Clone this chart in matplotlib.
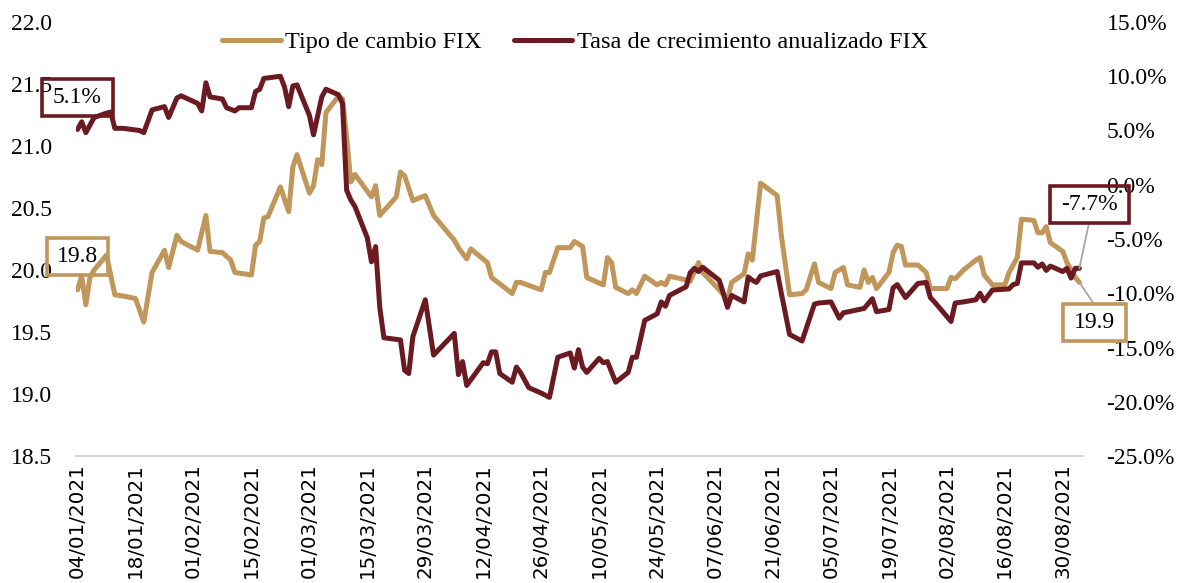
import matplotlib
matplotlib.use("Agg")

import matplotlib.pyplot as plt
import matplotlib.dates as mdates
from matplotlib.patches import Rectangle
from matplotlib.ticker import FuncFormatter, MultipleLocator
import pandas as pd

plt.rcParams.update({
    "font.family": ["Liberation Serif", "DejaVu Serif"],
    "font.size": 17,
})

TAN = "#C0965A"
WINE = "#6B1A21"

# Tipo de cambio FIX (pesos por dólar)
fix_dates = [
    "2021-01-04", "2021-01-05", "2021-01-06", "2021-01-07", "2021-01-08", "2021-01-11",
    "2021-01-13", "2021-01-15", "2021-01-18", "2021-01-20", "2021-01-22", "2021-01-25",
    "2021-01-26", "2021-01-28", "2021-01-29", "2021-02-02", "2021-02-04", "2021-02-05",
    "2021-02-08", "2021-02-10", "2021-02-11", "2021-02-15", "2021-02-16", "2021-02-17",
    "2021-02-18", "2021-02-19", "2021-02-22", "2021-02-24", "2021-02-25", "2021-02-26",
    "2021-03-01", "2021-03-02", "2021-03-03", "2021-03-04", "2021-03-05", "2021-03-08",
    "2021-03-09", "2021-03-10", "2021-03-11", "2021-03-12", "2021-03-16", "2021-03-17",
    "2021-03-18", "2021-03-22", "2021-03-23", "2021-03-24", "2021-03-26", "2021-03-29",
    "2021-03-31", "2021-04-05", "2021-04-06", "2021-04-08", "2021-04-09", "2021-04-13",
    "2021-04-14", "2021-04-19", "2021-04-20", "2021-04-21", "2021-04-26", "2021-04-27",
    "2021-04-28", "2021-04-30", "2021-05-03", "2021-05-04", "2021-05-06", "2021-05-07",
    "2021-05-11", "2021-05-12", "2021-05-13", "2021-05-14", "2021-05-17", "2021-05-18",
    "2021-05-19", "2021-05-21", "2021-05-24", "2021-05-25", "2021-05-26", "2021-05-27",
    "2021-05-31", "2021-06-01", "2021-06-03", "2021-06-04", "2021-06-08", "2021-06-10",
    "2021-06-11", "2021-06-14", "2021-06-15", "2021-06-16", "2021-06-18", "2021-06-22",
    "2021-06-23", "2021-06-25", "2021-06-28", "2021-06-29", "2021-07-01", "2021-07-02",
    "2021-07-05", "2021-07-06", "2021-07-08", "2021-07-09", "2021-07-12", "2021-07-13",
    "2021-07-14", "2021-07-15", "2021-07-16", "2021-07-19", "2021-07-20", "2021-07-21",
    "2021-07-22", "2021-07-23", "2021-07-26", "2021-07-28", "2021-07-29", "2021-08-02",
    "2021-08-03", "2021-08-04", "2021-08-06", "2021-08-09", "2021-08-10", "2021-08-11",
    "2021-08-13", "2021-08-16", "2021-08-17", "2021-08-19", "2021-08-20", "2021-08-23",
    "2021-08-24", "2021-08-25", "2021-08-26", "2021-08-27", "2021-08-30", "2021-08-31",
    "2021-09-02", "2021-09-03",
]
fix_values = [
    19.84, 19.95, 19.72, 19.94, 20.00, 20.12,
    19.80, 19.79, 19.77, 19.58, 19.98, 20.16,
    20.02, 20.28, 20.23, 20.16, 20.44, 20.15,
    20.14, 20.08, 19.98, 19.96, 20.20, 20.23,
    20.42, 20.43, 20.67, 20.47, 20.83, 20.93,
    20.62, 20.68, 20.89, 20.85, 21.27, 21.40,
    21.38, 21.07, 20.71, 20.77, 20.59, 20.68,
    20.44, 20.59, 20.79, 20.76, 20.56, 20.60,
    20.44, 20.24, 20.18, 20.09, 20.17, 20.06,
    19.94, 19.81, 19.90, 19.90, 19.84, 19.98,
    19.98, 20.18, 20.18, 20.23, 20.19, 19.94,
    19.88, 20.10, 20.06, 19.86, 19.81, 19.84,
    19.81, 19.95, 19.88, 19.90, 19.88, 19.95,
    19.92, 19.91, 20.06, 19.98, 19.84, 19.76,
    19.90, 19.97, 20.13, 20.08, 20.70, 20.60,
    20.28, 19.80, 19.81, 19.84, 20.05, 19.90,
    19.85, 19.98, 20.02, 19.88, 19.86, 20.00,
    19.90, 19.94, 19.85, 19.98, 20.14, 20.20,
    20.19, 20.04, 20.04, 19.98, 19.85, 19.85,
    19.94, 19.93, 20.00, 20.08, 20.10, 19.96,
    19.88, 19.88, 19.98, 20.10, 20.41, 20.40,
    20.30, 20.30, 20.35, 20.22, 20.15, 20.06,
    19.94, 19.90,
]

# Tasa de crecimiento anualizado FIX (%)
rate_dates = [
    "2021-01-04", "2021-01-05", "2021-01-06", "2021-01-07", "2021-01-08", "2021-01-11",
    "2021-01-12", "2021-01-13", "2021-01-15", "2021-01-19", "2021-01-20", "2021-01-22",
    "2021-01-25", "2021-01-26", "2021-01-28", "2021-01-29", "2021-02-02", "2021-02-03",
    "2021-02-04", "2021-02-05", "2021-02-08", "2021-02-09", "2021-02-11", "2021-02-12",
    "2021-02-15", "2021-02-16", "2021-02-17", "2021-02-18", "2021-02-22", "2021-02-23",
    "2021-02-24", "2021-02-25", "2021-02-26", "2021-03-01", "2021-03-02", "2021-03-04",
    "2021-03-05", "2021-03-08", "2021-03-09", "2021-03-10", "2021-03-11", "2021-03-12",
    "2021-03-15", "2021-03-16", "2021-03-17", "2021-03-18", "2021-03-19", "2021-03-23",
    "2021-03-24", "2021-03-25", "2021-03-26", "2021-03-29", "2021-03-31", "2021-04-05",
    "2021-04-06", "2021-04-07", "2021-04-08", "2021-04-12", "2021-04-13", "2021-04-14",
    "2021-04-15", "2021-04-16", "2021-04-19", "2021-04-20", "2021-04-21", "2021-04-23",
    "2021-04-26", "2021-04-27", "2021-04-28", "2021-04-30", "2021-05-03", "2021-05-04",
    "2021-05-05", "2021-05-06", "2021-05-07", "2021-05-10", "2021-05-11", "2021-05-12",
    "2021-05-14", "2021-05-17", "2021-05-18", "2021-05-19", "2021-05-21", "2021-05-24",
    "2021-05-25", "2021-05-26", "2021-05-27", "2021-05-31", "2021-06-01", "2021-06-02",
    "2021-06-03", "2021-06-04", "2021-06-08", "2021-06-09", "2021-06-10", "2021-06-11",
    "2021-06-14", "2021-06-15", "2021-06-16", "2021-06-17", "2021-06-18", "2021-06-22",
    "2021-06-23", "2021-06-25", "2021-06-28", "2021-07-01", "2021-07-02", "2021-07-05",
    "2021-07-07", "2021-07-08", "2021-07-13", "2021-07-15", "2021-07-16", "2021-07-19",
    "2021-07-20", "2021-07-21", "2021-07-23", "2021-07-26", "2021-07-28", "2021-07-29",
    "2021-07-30", "2021-08-03", "2021-08-04", "2021-08-06", "2021-08-09", "2021-08-10",
    "2021-08-11", "2021-08-13", "2021-08-17", "2021-08-18", "2021-08-19", "2021-08-20",
    "2021-08-23", "2021-08-24", "2021-08-25", "2021-08-26", "2021-08-27", "2021-08-30",
    "2021-08-31", "2021-09-01", "2021-09-02", "2021-09-03",
]
rate_values = [
    5.1, 5.8, 4.8, 5.5, 6.2, 6.6,
    6.7, 5.2, 5.2, 5.0, 4.8, 6.9,
    7.2, 6.2, 8.0, 8.2, 7.5, 6.8,
    9.4, 8.1, 7.9, 7.1, 6.8, 7.1,
    7.1, 8.6, 8.8, 9.8, 10.0, 9.0,
    7.2, 9.1, 9.2, 6.4, 4.6, 8.1,
    8.8, 8.3, 7.5, -0.5, -1.4, -2.0,
    -4.9, -7.1, -5.7, -11.3, -14.1, -14.3,
    -17.1, -17.4, -14.0, -10.6, -15.7, -13.7,
    -17.5, -16.3, -18.5, -16.4, -16.5, -15.4,
    -15.4, -17.4, -18.2, -16.8, -17.3, -18.7,
    -19.2, -19.4, -19.6, -15.9, -15.5, -16.9,
    -15.2, -16.8, -17.3, -16.0, -16.4, -16.3,
    -18.2, -17.3, -15.9, -15.9, -12.5, -11.9,
    -10.8, -11.2, -10.2, -9.4, -8.1, -7.7,
    -8.0, -7.6, -8.8, -10.0, -11.3, -10.2,
    -10.8, -8.5, -8.8, -9.0, -8.4, -8.0,
    -10.0, -13.8, -14.4, -11.0, -10.9, -10.8,
    -12.3, -11.8, -11.4, -10.5, -11.7, -11.5,
    -9.5, -9.2, -10.4, -9.1, -9.0, -10.4,
    -10.8, -12.6, -10.9, -10.8, -10.6, -10.0,
    -10.7, -9.7, -9.6, -9.2, -9.1, -7.2,
    -7.2, -7.6, -7.3, -7.9, -7.5, -8.0,
    -7.7, -8.6, -7.7, -7.7,
]

tick_dates = pd.date_range("2021-01-04", "2021-08-30", freq="14D")

fix_x = pd.to_datetime(fix_dates)
rate_x = pd.to_datetime(rate_dates)

W, H = 1184, 583
fig = plt.figure(figsize=(W / 100, H / 100), dpi=100)
ax = fig.add_axes([76 / W, 1 - 456 / H, (1083 - 76) / W, (456 - 22) / H])
ax2 = ax.twinx()

line_fix, = ax.plot(fix_x, fix_values, color=TAN, lw=3.6,
                    solid_joinstyle="round", solid_capstyle="round",
                    label="Tipo de cambio FIX")
line_rate, = ax2.plot(rate_x, rate_values, color=WINE, lw=3.6,
                      solid_joinstyle="round", solid_capstyle="round",
                      label="Tasa de crecimiento anualizado FIX")

ax.set_xlim(fix_x[0] - pd.Timedelta(hours=9), fix_x[-1] + pd.Timedelta(hours=21))
ax.set_ylim(18.5, 22.0)
ax.yaxis.set_major_locator(MultipleLocator(0.5))
ax.yaxis.set_major_formatter(FuncFormatter(lambda v, _: f"{v:.1f}"))
ax2.set_ylim(-25, 15)
ax2.yaxis.set_major_locator(MultipleLocator(5))
ax2.yaxis.set_major_formatter(FuncFormatter(lambda v, _: f"{v:.1f}%"))

ax.set_xticks(tick_dates)
ax.xaxis.set_major_formatter(mdates.DateFormatter("%d/%m/%Y"))
for lab in ax.get_xticklabels():
    lab.set_rotation(90)
    lab.set_fontfamily("DejaVu Sans")
    lab.set_fontsize(14.3)

ax.tick_params(axis="x", length=0, pad=5)
ax.tick_params(axis="y", length=0, pad=17, labelsize=17)
ax2.tick_params(axis="y", length=0, pad=17, labelsize=17)

for a in (ax, ax2):
    for side in ("top", "left", "right"):
        a.spines[side].set_visible(False)
    a.spines["bottom"].set_color("#D9D9D9")
    a.spines["bottom"].set_linewidth(1.5)
ax2.spines["bottom"].set_visible(False)

fig.legend(handles=[line_fix, line_rate], loc="center",
           bbox_to_anchor=(575 / W, 1 - 42 / H), ncol=2, frameon=False,
           fontsize=17.5, handlelength=2.4, handletextpad=0.2, columnspacing=1.3)


def label_box(left, top, right, bottom, text, color):
    fig.add_artist(Rectangle((left / W, 1 - bottom / H), (right - left) / W,
                             (bottom - top) / H, transform=fig.transFigure,
                             facecolor="none", edgecolor=color, lw=2.6, zorder=5))
    fig.text((left + right) / 2 / W, 1 - (top + bottom) / 2 / H, text,
             ha="center", va="center", fontsize=17, zorder=6)


# leader lines for the last points
ax2.annotate("", xy=(rate_x[-1], rate_values[-1]), xytext=(1089, H - 223),
             textcoords="figure pixels",
             arrowprops=dict(arrowstyle="-", color="#A6A6A6", lw=1.3,
                             shrinkA=0, shrinkB=0))
ax.annotate("", xy=(fix_x[-1], fix_values[-1]), xytext=(1094, H - 304),
            textcoords="figure pixels",
            arrowprops=dict(arrowstyle="-", color="#A6A6A6", lw=1.3,
                            shrinkA=0, shrinkB=0))

label_box(42, 79, 113, 116, f"{rate_values[0]:.1f}%", WINE)
label_box(47, 238, 108, 275, f"{fix_values[0]:.1f}", TAN)
label_box(1050, 186, 1129, 223, f"{rate_values[-1]:.1f}%", WINE)
label_box(1063, 304, 1126, 341, f"{fix_values[-1]:.1f}", TAN)

fig.savefig("out.png", dpi=100)
